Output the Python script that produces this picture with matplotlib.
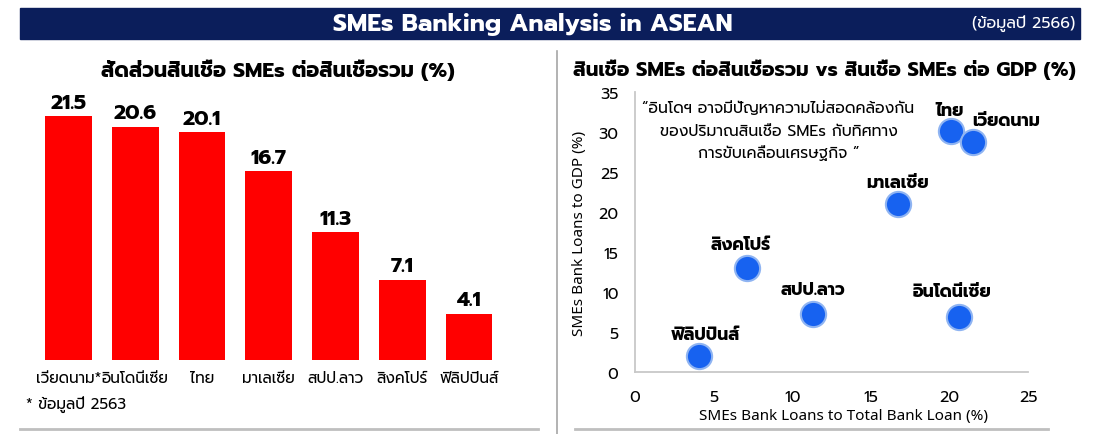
import numpy as np
import matplotlib
matplotlib.use('Agg')
import matplotlib.pyplot as plt
from matplotlib.patches import Rectangle
from matplotlib.lines import Line2D

plt.rcParams['font.family'] = ['Prompt', 'DejaVu Sans']

# data
countries = ['เวียดนาม*', 'อินโดนีเซีย', 'ไทย', 'มาเลเซีย', 'สปป.ลาว', 'สิงคโปร์', 'ฟิลิปปินส์']
loan_share = [21.5, 20.6, 20.1, 16.7, 11.3, 7.1, 4.1]

sc_names = ['ไทย', 'เวียดนาม', 'มาเลเซีย', 'สิงคโปร์', 'สปป.ลาว', 'อินโดนีเซีย', 'ฟิลิปปินส์']
sc_x = [20.1, 21.5, 16.7, 7.1, 11.3, 20.6, 4.1]
sc_y = [30.1, 28.7, 21.0, 13.0, 7.3, 6.9, 2.0]
# label offsets in points (dx, dy)
sc_off = [(-1, 9), (24, 10), (0, 9), (-4, 11), (0, 11), (-5, 12), (4, 9)]

fig = plt.figure(figsize=(11, 4.35), dpi=100)

# header band
fig.patches.append(Rectangle((20/1100, 1 - 40/435), 1060/1100, 31/435,
                             transform=fig.transFigure, color='#0b1e5b', zorder=0))
fig.text(533/1100, 1 - 24/435, 'SMEs Banking Analysis in ASEAN', color='white',
         fontsize=17.5, fontweight='bold', ha='center', va='center')
fig.text(1075/1100, 1 - 24/435, '(ข้อมูลปี 2566)', color='white',
         fontsize=11.5, ha='right', va='center')

# separators
fig.lines.append(Line2D([557/1100, 557/1100], [0, 1 - 52/435], transform=fig.transFigure,
                        color='#a6a6a6', lw=1.2))
fig.lines.append(Line2D([20/1100, 538/1100], [5/435, 5/435], transform=fig.transFigure,
                        color='#bfbfbf', lw=2))
fig.lines.append(Line2D([575/1100, 1048/1100], [5/435, 5/435], transform=fig.transFigure,
                        color='#bfbfbf', lw=2))

# ---- left bar chart ----
ax1 = fig.add_axes([21.8/1100, 74/435, 500.6/1100, 272/435])
ind = np.arange(len(countries))
bars = ax1.bar(ind, loan_share, 0.7, color='#ff0000')
for b, v in zip(bars, loan_share):
    ax1.annotate('%.1f' % v, (b.get_x() + b.get_width()/2, v), xytext=(0, 3),
                 textcoords='offset points', ha='center', va='bottom',
                 fontsize=15, fontweight='bold')
ax1.set_xlim(-0.7, 6.8)
ax1.set_ylim(0, 24)
ax1.set_xticks(ind)
ax1.set_xticklabels(countries, fontsize=11)
ax1.tick_params(axis='x', length=0, pad=7)
ax1.set_yticks([])
for s in ax1.spines.values():
    s.set_visible(False)
ax1.patch.set_alpha(0)
fig.text(278/1100, 1 - 70/435, 'สัดส่วนสินเชื่อ SMEs ต่อสินเชื่อรวม (%)', fontsize=15,
         fontweight='bold', ha='center', va='center')
fig.text(26/1100, 1 - 405/435, '* ข้อมูลปี 2563', fontsize=11, ha='left', va='center')

# ---- right scatter ----
ax2 = fig.add_axes([635/1100, 62/435, 393/1100, 280/435])
ax2.scatter(sc_x, sc_y, s=330, color='#1762f0', edgecolors='#8fb4f2', linewidths=1.5,
            zorder=3, clip_on=False)
for n, x, y, (dx, dy) in zip(sc_names, sc_x, sc_y, sc_off):
    ax2.annotate(n, (x, y), xytext=(dx, dy), textcoords='offset points',
                 ha='center', va='bottom', fontsize=12.5, fontweight='bold')
ax2.set_xlim(0, 25)
ax2.set_ylim(0, 35)
ax2.set_xticks(np.arange(0, 26, 5))
ax2.set_yticks(np.arange(0, 36, 5))
ax2.tick_params(length=0, labelsize=11.5, pad=12)
for s in ['top', 'right']:
    ax2.spines[s].set_visible(False)
for s in ['left', 'bottom']:
    ax2.spines[s].set_color('#c8c8c8')
    ax2.spines[s].set_linewidth(1.3)
ax2.set_xlabel('SMEs Bank Loans to Total Bank Loan (%)', fontsize=11,
               family=['Noto Sans', 'DejaVu Sans'], labelpad=2)
ax2.xaxis.set_label_coords(0.53, -0.13)
ax2.set_ylabel('SMEs Bank Loans to GDP (%)', fontsize=11,
               family=['Noto Sans', 'DejaVu Sans'], labelpad=8)
ax2.text(0.365, 0.862, '“อินโดฯ อาจมีปัญหาความไม่สอดคล้องกัน\nของปริมาณสินเชื่อ SMEs กับทิศทาง\nการขับเคลื่อนเศรษฐกิจ ”',
         transform=ax2.transAxes, ha='center', va='center', fontsize=11.3, linespacing=1.55)
fig.text(824/1100, 1 - 70/435, 'สินเชื่อ SMEs ต่อสินเชื่อรวม vs สินเชื่อ SMEs ต่อ GDP (%)',
         fontsize=14.3, fontweight='bold', ha='center', va='center')

fig.savefig('out.png', dpi=100)
